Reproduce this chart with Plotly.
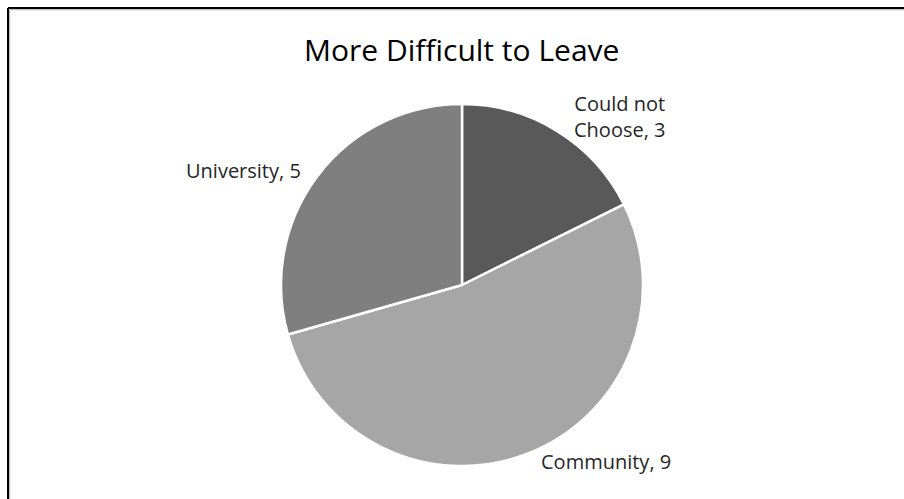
import plotly.graph_objects as go

# Survey responses: which is more difficult to leave
categories = ["Could not Choose", "Community", "University"]
counts = [3, 9, 5]
slice_colors = ["#595959", "#a6a6a6", "#7f7f7f"]
label_lines = ["Could not<br>Choose", "Community", "University"]

W, H = 904, 499

# pie placement in pixels
cx, cy, r = 462, 285, 181

fig = go.Figure(
    go.Pie(
        labels=categories,
        values=counts,
        sort=False,
        direction="clockwise",
        rotation=0,
        textinfo="none",
        hoverinfo="label+value",
        marker=dict(colors=slice_colors, line=dict(color="white", width=2.5)),
        domain=dict(
            x=[(cx - r) / W, (cx + r) / W],
            y=[(H - cy - r) / H, (H - cy + r) / H],
        ),
        showlegend=False,
    )
)

# data labels placed outside the slices (pixel anchor positions)
label_pos = [(620, 116), (606, 461), (243, 170)]
annotations = []
for name, v, (px, py) in zip(label_lines, counts, label_pos):
    annotations.append(
        dict(
            text=f"{name}, {v}",
            x=px / W,
            y=1 - py / H,
            xref="paper",
            yref="paper",
            xanchor="center",
            yanchor="middle",
            showarrow=False,
            align="center",
            font=dict(family="Open Sans", size=20, color="#262626"),
        )
    )

annotations.append(
    dict(
        text="More Difficult to Leave",
        x=462 / W,
        y=1 - 50 / H,
        xref="paper",
        yref="paper",
        xanchor="center",
        yanchor="middle",
        showarrow=False,
        font=dict(family="Open Sans", size=30, color="#000000"),
    )
)

# chart frame along top and left edges
shapes = [
    dict(type="line", xref="paper", yref="paper", x0=9.5 / W, y0=1 - 9.5 / H, x1=1, y1=1 - 9.5 / H,
         line=dict(color="#c0c0c0", width=1.5)),
    dict(type="line", xref="paper", yref="paper", x0=9.5 / W, y0=1 - 9.5 / H, x1=9.5 / W, y1=0,
         line=dict(color="#c0c0c0", width=1.5)),
    dict(type="line", xref="paper", yref="paper", x0=8 / W, y0=1 - 8 / H, x1=1, y1=1 - 8 / H,
         line=dict(color="#000000", width=2)),
    dict(type="line", xref="paper", yref="paper", x0=8 / W, y0=1 - 8 / H, x1=8 / W, y1=0,
         line=dict(color="#000000", width=2)),
]

fig.update_layout(
    width=W,
    height=H,
    margin=dict(l=0, r=0, t=0, b=0),
    paper_bgcolor="white",
    plot_bgcolor="white",
    annotations=annotations,
    shapes=shapes,
)

fig.write_html("out.html")
